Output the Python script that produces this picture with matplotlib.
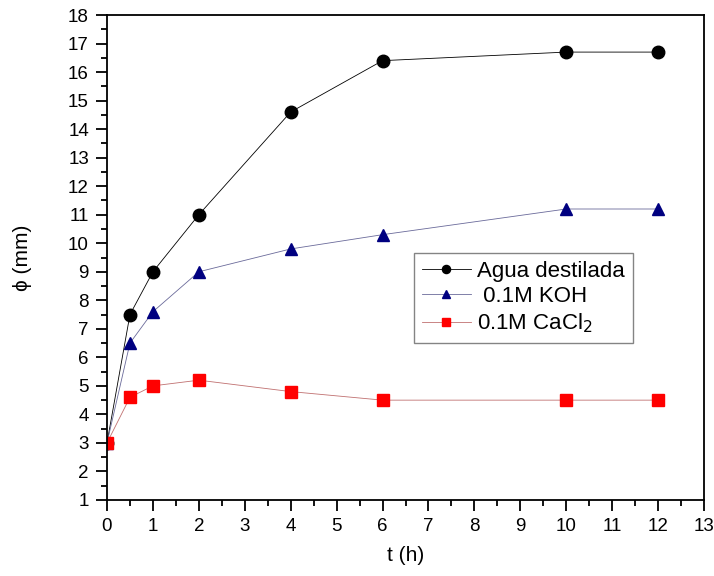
import matplotlib
matplotlib.use("Agg")
import matplotlib.pyplot as plt
from matplotlib.ticker import MultipleLocator

plt.rcParams['font.family'] = ['Liberation Sans', 'DejaVu Sans']

t = [0, 0.5, 1, 2, 4, 6, 10, 12]
agua = [3, 7.5, 9, 11, 14.6, 16.4, 16.7, 16.7]
koh = [3, 6.5, 7.6, 9, 9.8, 10.3, 11.2, 11.2]
cacl2 = [3, 4.6, 5.0, 5.2, 4.8, 4.5, 4.5, 4.5]

fig = plt.figure(figsize=(7.14, 5.76), dpi=100)
ax = fig.add_axes([107/714, 1-500/576, (704-107)/714, (500-15)/576])

l1, = ax.plot(t, agua, color='black', lw=0.6, marker='o', ms=9, mfc='black', mec='black',
              label='Agua destilada')
l2, = ax.plot(t, koh, color='#6a6a9a', lw=0.6, marker='^', ms=9, mfc='#000080', mec='#000080',
              label=' 0.1M KOH')
l3, = ax.plot(t, cacl2, color='#c07070', lw=0.6, marker='s', ms=8, mfc='#ff0000', mec='#ff0000',
              label='0.1M CaCl$_2$')

ax.set_xlim(0, 13)
ax.set_ylim(1, 18)
ax.xaxis.set_major_locator(MultipleLocator(1))
ax.xaxis.set_minor_locator(MultipleLocator(0.5))
ax.yaxis.set_major_locator(MultipleLocator(1))
ax.yaxis.set_minor_locator(MultipleLocator(0.5))
ax.tick_params(which='both', direction='out', top=False, right=False, labelsize=13.5, width=1.3)
ax.tick_params(which='major', length=8, pad=5)
ax.tick_params(which='minor', length=4)
for s in ax.spines.values():
    s.set_linewidth(1.3)

ax.set_xlabel('t (h)', fontsize=15, labelpad=8)
ax.set_ylabel('ϕ (mm)', fontsize=15, labelpad=26)

leg = ax.legend(loc='upper left', bbox_to_anchor=((414-107)/597, 1-(253-15)/485),
                fontsize=16, frameon=True, fancybox=False, borderpad=0.35,
                borderaxespad=0.0,
                handlelength=2.2, handletextpad=0.3, labelspacing=0.2,
                markerscale=0.65)
leg.get_frame().set_edgecolor('#666666')
leg.get_frame().set_linewidth(1.0)

fig.savefig('out.png', dpi=100)
